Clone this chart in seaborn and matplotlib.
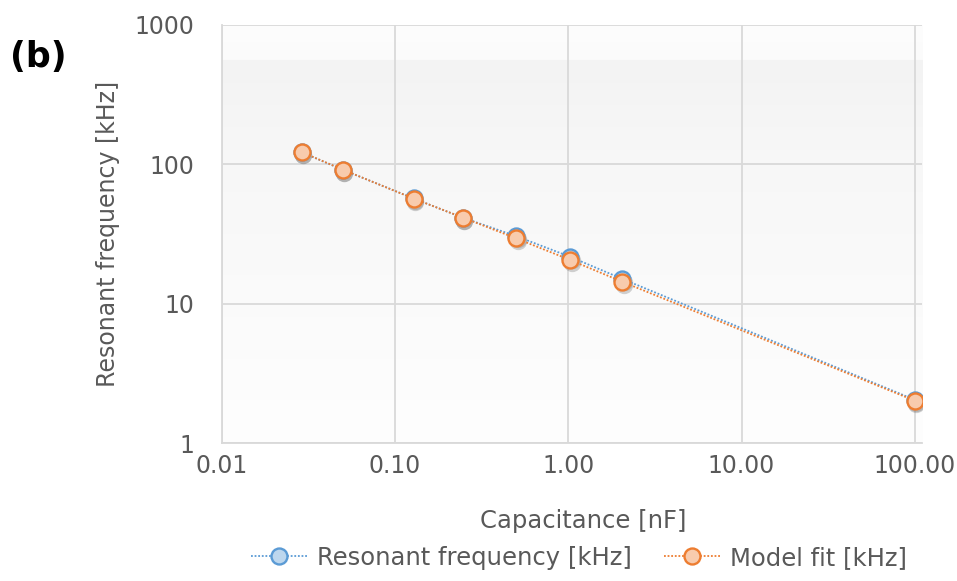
import numpy as np
import pandas as pd
import matplotlib
matplotlib.use("Agg")
import matplotlib.pyplot as plt
import matplotlib.transforms as mtransforms
from matplotlib.colors import LinearSegmentedColormap
from matplotlib.ticker import FixedLocator, FixedFormatter, NullLocator
import seaborn as sns

# ---- data ----
capacitance_nF = [0.029, 0.050, 0.128, 0.246, 0.50, 1.03, 2.05, 100.0]
resonant_kHz = [122.0, 91.5, 57.0, 41.5, 30.6, 21.7, 15.1, 2.05]
model_kHz = [122.4, 91.7, 56.9, 41.6, 29.5, 20.6, 14.4, 2.02]
x_ticks = [0.01, 0.1, 1, 10, 100]
x_ticklabels = ["0.01", "0.10", "1.00", "10.00", "100.00"]
y_ticks = [1, 10, 100, 1000]
y_ticklabels = ["1", "10", "100", "1000"]

df_meas = pd.DataFrame({"C": capacitance_nF, "f": resonant_kHz})
df_model = pd.DataFrame({"C": capacitance_nF, "f": model_kHz})

sns.set_theme(style="white")
plt.rcParams["font.family"] = ["DejaVu Sans"]

TXT = "#595959"
GRID = "#d9d9d9"
BLUE = "#5b9bd5"
ORANGE = "#ed7d31"
FS = 17

fig = plt.figure(figsize=(9.57, 5.81), dpi=100)
ax = fig.add_axes([0.2317, 0.237, 0.7317, 0.720])

# background gradient
grad = np.linspace(0, 1, 256).reshape(-1, 1)
cmap = LinearSegmentedColormap.from_list(
    "bg", [(0.0, "#fefefe"), (0.7, "#f7f7f7"), (0.915, "#f3f3f3"), (0.916, "#fbfbfb"), (1.0, "#fdfdfd")])
ax.imshow(grad, extent=[0, 1, 0, 1], transform=ax.transAxes, origin="lower",
          aspect="auto", cmap=cmap, zorder=0)

ax.set_xscale("log")
ax.set_yscale("log")
ax.set_xlim(0.01, 110)
ax.set_ylim(1, 1000)

# shadows
shadow_tr = mtransforms.offset_copy(ax.transData, fig=fig, x=1.5, y=-3, units="dots")
for df in (df_meas, df_model):
    ax.plot(df["C"], df["f"], linestyle="none", marker="o", markersize=12.5,
            markerfacecolor="#7f7f7f", markeredgecolor="none", alpha=0.35,
            transform=shadow_tr, zorder=2)

sns.lineplot(data=df_meas, x="C", y="f", ax=ax, color=BLUE, linestyle=(0, (1, 1)),
             linewidth=1.3, marker="o", markersize=11.5, markerfacecolor="#bdd7ee",
             markeredgecolor=BLUE, markeredgewidth=1.7, label="Resonant frequency [kHz]",
             zorder=3, sort=False)
sns.lineplot(data=df_model, x="C", y="f", ax=ax, color=ORANGE, linestyle=(0, (1, 1)),
             linewidth=1.3, marker="o", markersize=11.5, markerfacecolor="#f8cbad",
             markeredgecolor=ORANGE, markeredgewidth=1.7, label="Model fit [kHz]",
             zorder=4, sort=False)

ax.xaxis.set_major_locator(FixedLocator(x_ticks))
ax.xaxis.set_major_formatter(FixedFormatter(x_ticklabels))
ax.xaxis.set_minor_locator(NullLocator())
ax.yaxis.set_major_locator(FixedLocator(y_ticks))
ax.yaxis.set_major_formatter(FixedFormatter(y_ticklabels))
ax.yaxis.set_minor_locator(NullLocator())

ax.grid(True, which="major", color=GRID, linewidth=1.3, zorder=1)
ax.set_axisbelow(True)
for s in ("top", "right"):
    ax.spines[s].set_visible(False)
for s in ("left", "bottom"):
    ax.spines[s].set_color(GRID)
    ax.spines[s].set_linewidth(1.3)

ax.tick_params(axis="y", which="both", length=0, labelsize=FS, labelcolor=TXT, pad=20)
ax.tick_params(axis="x", which="both", length=0, labelsize=FS, labelcolor=TXT, pad=8)
ax.set_xlabel("Capacitance [nF]", fontsize=17.5, color=TXT)
ax.xaxis.set_label_coords(0.516, -0.186)
ax.xaxis.label.set_verticalalignment("center")
ax.set_ylabel("Resonant frequency [kHz]", fontsize=FS, color=TXT, labelpad=10)

leg = ax.legend(loc="center", ncol=2, frameon=False, fontsize=17.5, handlelength=2.3,
                columnspacing=1.35, handletextpad=0.4, labelcolor=TXT)
leg.set_bbox_to_anchor((0.605, 0.04), transform=fig.transFigure)

fig.text(0.010, 0.885, "(b)", fontsize=25, fontweight="bold", color="black",
         family=["DejaVu Sans"])

fig.savefig("out.png", dpi=100, facecolor="white")
